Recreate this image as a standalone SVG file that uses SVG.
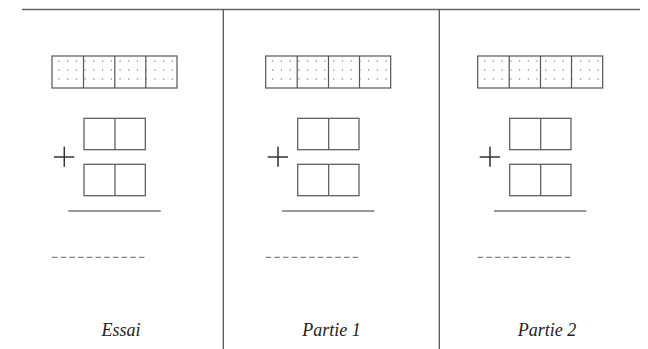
<svg xmlns="http://www.w3.org/2000/svg" width="648" height="349" viewBox="0 0 648 349">
  <style>
    .frame { stroke: #666; stroke-width: 1.4; fill: none; }
    .divider { stroke: #555; stroke-width: 1.3; fill: none; }
    .cell { stroke: #555; stroke-width: 1.2; fill: none; }
    .dots { stroke: #888; stroke-width: 1.5; stroke-linecap: round; stroke-dasharray: 0 8.72; fill: none; }
    .plus { stroke: #333; stroke-width: 1.5; fill: none; }
    .rule { stroke: #777; stroke-width: 1.3; fill: none; }
    .dash { stroke: #666; stroke-width: 1; stroke-dasharray: 5.5 3.2; fill: none; }
    .label { font-family: "Liberation Serif", "Times New Roman", serif; font-style: italic; font-size: 18px; fill: #222; text-anchor: middle; }
  </style>
  <defs>
    <g id="panel">
      <g class="dotted-grid">
        <line class="dots" x1="59" y1="61" x2="173" y2="61"/>
        <line class="dots" x1="59" y1="70" x2="173" y2="70"/>
        <line class="dots" x1="59" y1="79" x2="173" y2="79"/>
        <rect class="cell" x="52" y="56" width="125" height="32"/>
        <path class="cell" d="M83.5 56V88M114.8 56V88M145.8 56V88"/>
      </g>
      <g class="top-box">
        <rect class="cell" x="84" y="118.3" width="61.3" height="31.4"/>
        <path class="cell" d="M115 118.3V149.7"/>
      </g>
      <g class="bottom-box">
        <rect class="cell" x="84" y="164.3" width="61.3" height="31.4"/>
        <path class="cell" d="M115 164.3V195.7"/>
      </g>
      <path class="plus" d="M54 157H74.3M64.3 146.7V166.7"/>
      <path class="rule" d="M68.3 211H160.7"/>
      <path class="dash" d="M52 257.3H144.5"/>
    </g>
  </defs>
  <rect x="0" y="0" width="648" height="349" fill="#ffffff"/>
  <g id="frame">
    <path class="frame" d="M22 9.5H640"/>
    <path class="divider" d="M223.3 9.5V349M439.3 9.5V349"/>
  </g>
  <g id="essai">
    <use href="#panel"/>
    <text class="label" x="121" y="336">Essai</text>
  </g>
  <g id="partie1">
    <use href="#panel" transform="translate(213.7,0)"/>
    <text class="label" x="331.5" y="336">Partie 1</text>
  </g>
  <g id="partie2">
    <use href="#panel" transform="translate(425.7,0)"/>
    <text class="label" x="547" y="336">Partie 2</text>
  </g>
</svg>
